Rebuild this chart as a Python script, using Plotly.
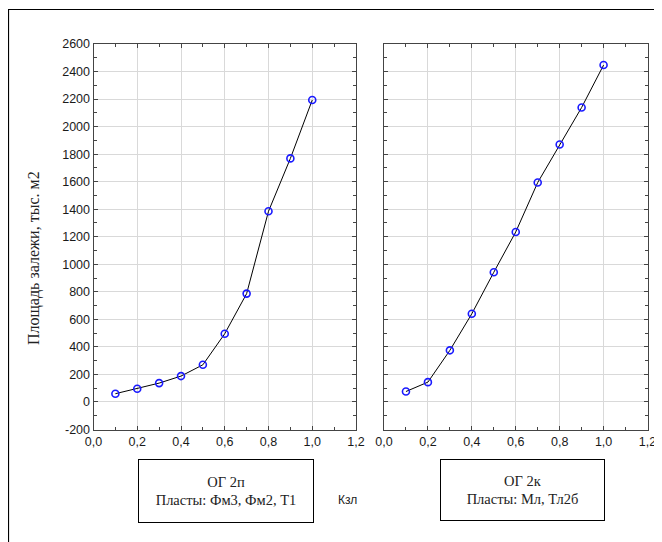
import plotly.graph_objects as go

# the page body has an 8px margin at left/top; the figure fills the rest of the window
OFF = 8
W, H = 662 - OFF, 542 - OFF

k_zl = [0.1, 0.2, 0.3, 0.4, 0.5, 0.6, 0.7, 0.8, 0.9, 1.0]
area_og2p = [60, 96, 137, 188, 270, 496, 787, 1385, 1769, 2193]
area_og2k = [76, 144, 375, 641, 942, 1235, 1594, 1870, 2139, 2447]

y_tickvals = [-200, 0, 200, 400, 600, 800, 1000, 1200, 1400, 1600, 1800, 2000, 2200, 2400, 2600]
y_ticktext = ["-200", "0", "200", "400", "600", "800", "1000", "1200", "1400", "1600", "1800",
              "2000", "2200", "2400", "2600"]

y_title = "Площадь залежи, тыс. м2"
x_title = "Кзл"
box_left = "ОГ 2п<br>Пласты: Фм3, Фм2, Т1"
box_right = "ОГ 2к<br>Пласты: Мл, Тл2б"


def px(x):
    return (x - OFF) / W


def py(y):
    return 1 - (y - OFF) / H


fig = go.Figure()
for vals, xa, ya in [(area_og2p, "x", "y"), (area_og2k, "x2", "y2")]:
    fig.add_trace(go.Scatter(
        x=k_zl, y=vals, xaxis=xa, yaxis=ya, mode="lines+markers",
        line=dict(color="black", width=1),
        marker=dict(symbol="circle-open", size=7, color="#1a1aff", line=dict(width=1.6, color="#1a1aff")),
        showlegend=False, cliponaxis=False,
    ))

tickfont = dict(family="Liberation Sans, Arial", size=12.5, color="#1a1a1a")
common_x = dict(range=[0, 1.2], dtick=0.2, tick0=0, tickformat=".1f", showgrid=True,
                gridcolor="#d9d9d9", gridwidth=1, showline=True, linecolor="#444", linewidth=1,
                mirror="ticks", ticks="inside", ticklen=4, tickcolor="#444",
                minor=dict(dtick=0.1, ticks="inside", ticklen=3, tickcolor="#444", showgrid=False),
                tickfont=tickfont, zeroline=False, fixedrange=True, automargin=False,
                ticklabeloverflow="allow")
common_y = dict(range=[-200, 2600], tickmode="array", tickvals=y_tickvals, ticktext=y_ticktext,
                showgrid=True,
                gridcolor="#d9d9d9", gridwidth=1, showline=True, linecolor="#444", linewidth=1,
                mirror="ticks", ticks="inside", ticklen=4, tickcolor="#444",
                minor=dict(dtick=100, tick0=0, ticks="inside", ticklen=3, tickcolor="#444", showgrid=False),
                tickfont=tickfont, zeroline=False, fixedrange=True, automargin=False)

serif = "Liberation Serif, Times New Roman, serif"

fig.update_layout(
    width=W, height=H, margin=dict(l=0, r=0, t=0, b=0, pad=0),
    paper_bgcolor="white", plot_bgcolor="white", separators=", ",
    xaxis=dict(common_x, domain=[px(93.5), px(356)], anchor="y"),
    yaxis=dict(common_y, domain=[py(429.5), py(44)], anchor="x"),
    xaxis2=dict(common_x, domain=[px(384), px(647.5)], anchor="y2"),
    yaxis2=dict(common_y, domain=[py(429.5), py(44)], anchor="x2", showticklabels=False),
    shapes=[dict(type="rect", xref="paper", yref="paper", x0=px(8.5), x1=1.05, y0=-0.05, y1=py(9.5),
                 line=dict(color="black", width=1.2))],
    annotations=[
        dict(text=y_title, xref="paper", yref="paper", x=px(34), y=py(258), showarrow=False,
             xanchor="center", yanchor="middle",
             textangle=-90, font=dict(family=serif, size=16, color="#222")),
        dict(text=x_title, xref="paper", yref="paper", x=px(348), y=py(500), showarrow=False,
             xanchor="center", yanchor="middle",
             font=dict(family="Liberation Sans, Arial", size=12, color="#222")),
        dict(text=box_left, xref="paper", yref="paper", x=px(226), y=py(491), showarrow=False,
             xanchor="center", yanchor="middle",
             width=172, height=60, bordercolor="black", borderwidth=1, borderpad=1, bgcolor="white",
             font=dict(family=serif, size=14.5, color="#222")),
        dict(text=box_right, xref="paper", yref="paper", x=px(522), y=py(490), showarrow=False,
             xanchor="center", yanchor="middle",
             width=161, height=58, bordercolor="black", borderwidth=1, borderpad=1, bgcolor="white",
             font=dict(family=serif, size=14.5, color="#222")),
    ],
)

fig.write_html("out.html")
